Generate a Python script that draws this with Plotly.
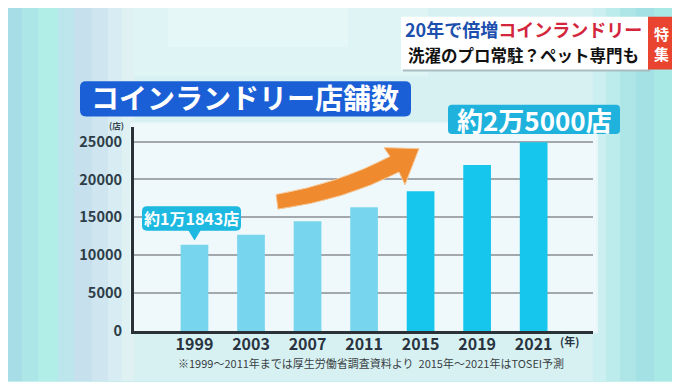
import plotly.graph_objects as go

# ---- data ----
years = ["1999", "2003", "2007", "2011", "2015", "2019", "2021"]
stores = [11400, 12700, 14500, 16350, 18450, 21900, 24900]
y_ticks = [0, 5000, 10000, 15000, 20000, 25000]
bar_colors = ["#78d5ee"] * 4 + ["#16c6ec"] * 3

W, H = 680, 382


def px(x):
    return x / W


def py(y):
    return 1 - y / H


def rect(x0, y0, x1, y1, color, layer="above"):
    return dict(type="rect", xref="paper", yref="paper",
                x0=px(x0), x1=px(x1), y0=py(y1), y1=py(y0),
                fillcolor=color, line=dict(width=0), layer=layer)


def rrect(x0, y0, x1, y1, r, color, layer="above"):
    pts = [
        f"M {px(x0 + r)},{py(y0)}",
        f"L {px(x1 - r)},{py(y0)}",
        f"Q {px(x1)},{py(y0)} {px(x1)},{py(y0 + r)}",
        f"L {px(x1)},{py(y1 - r)}",
        f"Q {px(x1)},{py(y1)} {px(x1 - r)},{py(y1)}",
        f"L {px(x0 + r)},{py(y1)}",
        f"Q {px(x0)},{py(y1)} {px(x0)},{py(y1 - r)}",
        f"L {px(x0)},{py(y0 + r)}",
        f"Q {px(x0)},{py(y0)} {px(x0 + r)},{py(y0)} Z",
    ]
    return dict(type="path", xref="paper", yref="paper", path=" ".join(pts),
                fillcolor=color, line=dict(width=0), layer=layer)


def poly(points, color, layer="above"):
    p = "M " + " L ".join(f"{px(x)},{py(y)}" for x, y in points) + " Z"
    return dict(type="path", xref="paper", yref="paper", path=p,
                fillcolor=color, line=dict(width=0), layer=layer)


fig = go.Figure()
fig.add_trace(go.Bar(x=years, y=stores, marker=dict(color=bar_colors, line=dict(width=0)),
                     width=0.49, hoverinfo="skip"))

shapes = []
# background bands (soft gradient imitation)
bands = [(0, 14, "#a6dde6"), (14, 30, "#ace6e6"), (30, 50, "#b2eee8"), (50, 66, "#bce6ec"),
         (66, 84, "#c6e0ee"), (84, 100, "#cfe6f1"), (100, 114, "#d8edf3"), (114, 126, "#e0f1f4"),
         (126, 585, "#d7f1f3"), (585, 598, "#ccf0f1"), (598, 612, "#bdeced"),
         (612, 628, "#aee5e7"), (628, 646, "#a3e1e4"), (646, 664, "#a8e9e5"), (664, 680, "#b0efe8")]
for x0, x1, c in bands:
    shapes.append(rect(x0, 0, x1, H, c, layer="below"))
shapes.append(rect(126, 0, 420, 70, "#def4f5", layer="below"))
shapes.append(rect(160, 0, 340, 40, "#e6f7f7", layer="below"))
# plot panel
shapes.append(rect(122, 117, 590, 333, "#e9f7f9", layer="below"))
shapes.append(rect(124, 119, 588, 331, "#eff9fb", layer="below"))

# title box
shapes.append(rrect(72, 75, 403, 111, 6, "#1b5fd7"))
# header box
shapes.append(rect(395, 11, 642, 65, "#a9bcc0"))
shapes.append(rect(393, 9, 640, 63, "#ffffff"))
shapes.append(rect(640, 9, 667, 63, "#e8442f"))
# 2万5000 box
shapes.append(rrect(440, 99, 612, 129, 4, "#1fb2dd"))
# callout
shapes.append(rrect(134, 203, 233, 228, 5, "#1db9e1"))
shapes.append(poly([(180, 227), (193, 227), (186.5, 238)], "#1db9e1"))
# orange arrow
arrow = ("M {a},{b} Q {c},{d} {e},{f} L {g},{h} L {i},{j} L {k},{l} L {m},{n} Q {o},{p} {q},{r} Z").format(
    a=px(270), b=py(206), c=px(336), d=py(197), e=px(391), f=py(168),
    g=px(397), h=py(181), i=px(411), j=py(144), k=px(376), l=py(143),
    m=px(382), n=py(152), o=px(330), p=py(180), q=px(268), r=py(191))
shapes.append(dict(type="path", xref="paper", yref="paper", path=arrow,
                   fillcolor="#ef8a2e", line=dict(width=1, color="#f6c89a"), layer="above"))

bold = "Noto Sans CJK JP"
ann = []
ann.append(dict(text="コインランドリー店舗数", x=px(237), y=py(91.5), font=dict(size=28, color="white", family=bold, weight="bold")))
ann.append(dict(text="(店)", x=px(108), y=py(120), font=dict(size=8.5, color="#3a4650", family=bold, weight="bold")))
ann.append(dict(text="<span style='color:#1c4fae'>20年で倍増</span><span style='color:#d3253b'>コインランドリー</span>",
                x=px(515), y=py(22), font=dict(size=18, family=bold, weight="bold")))
ann.append(dict(text="洗濯のプロ常駐？ペット専門も", x=px(515), y=py(48),
                font=dict(size=16.5, color="#111111", family=bold, weight="bold")))
ann.append(dict(text="特<br>集", x=px(653.5), y=py(36), font=dict(size=15, color="white", family=bold, weight="bold")))
ann.append(dict(text="約2万5000店", x=px(526), y=py(114), font=dict(size=26, color="white", family=bold, weight="bold")))
ann.append(dict(text="約1万1843店", x=px(183.5), y=py(215.5), font=dict(size=16, color="white", family=bold, weight="bold")))
ann.append(dict(text="(年)", x=px(561), y=py(341), font=dict(size=11, color="#2a3440", family=bold, weight="bold")))
ann.append(dict(text="※1999～2011年までは厚生労働省調査資料より  2015年～2021年はTOSEI予測",
                x=px(363), y=py(364), font=dict(size=11, color="#3a3f44", family=bold)))
for a in ann:
    a.update(xref="paper", yref="paper", showarrow=False, xanchor="center", yanchor="middle")

fig.update_layout(
    width=W, height=H, margin=dict(l=0, r=0, t=0, b=0),
    paper_bgcolor="#c8eef0", plot_bgcolor="rgba(0,0,0,0)",
    showlegend=False, shapes=shapes, annotations=ann,
    xaxis=dict(domain=[px(126), px(585)], type="category", range=[-1.07, 7.05],
               showgrid=False, showline=True, linecolor="#2b3237", linewidth=3,
               ticks="", ticklabelstandoff=-3,
               tickfont=dict(size=16, color="#2a3440", family=bold, weight="bold")),
    yaxis=dict(domain=[py(331), py(122)], range=[0, 26900], tickvals=y_ticks,
               tickformat="d",
               showgrid=True, gridcolor="#a2a8ac", gridwidth=1.5, zeroline=False,
               showline=True, linecolor="#2b3237", linewidth=3, ticks="",
               ticklabelstandoff=6,
               tickfont=dict(size=14.5, color="#2e3d48", family=bold, weight="bold")),
)

fig.write_html("out.html")
